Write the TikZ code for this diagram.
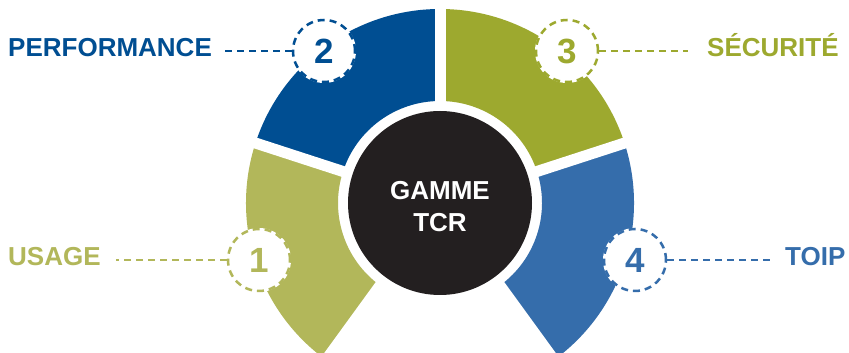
\documentclass[tikz,border=0pt]{standalone}
\usepackage{fontspec}
\setmainfont{Liberation Sans}
\usetikzlibrary{calc}
\definecolor{cone}{HTML}{B2B75A}
\definecolor{ctwo}{HTML}{004E92}
\definecolor{cthree}{HTML}{9DA92F}
\definecolor{cfour}{HTML}{356DAB}
\definecolor{ccore}{HTML}{231F20}
\begin{document}
\begin{tikzpicture}[x=1pt,y=1pt,
  numc/.style={circle, fill=white, minimum size=64pt, inner sep=0pt, text=#1,
    font=\fontsize{35}{40}\selectfont\bfseries},
  ring/.style={draw=#1, line width=2.5pt, dash pattern=on 7pt off 5pt},
  lbl/.style={inner sep=0pt, anchor=base west, text=#1,
    font=\fontsize{26}{30}\selectfont\bfseries},
  lnk/.style={draw=#1, line width=2.5pt, dash pattern=on 7pt off 5pt},
  gap/.style={draw=white, line width=11pt}]
\useasboundingbox (0,0) rectangle (849,353);
\clip (0,0) rectangle (849,353);
\fill[white] (0,0) rectangle (849,353);
% segments
\begin{scope}[shift={(440,150)}]
  \fill[cone]   (162:194pt) arc[start angle=162, end angle=234, radius=194pt] -- (234:102pt) arc[start angle=234, end angle=162, radius=102pt] -- cycle;
  \fill[ctwo]   (90:194pt) arc[start angle=90, end angle=162, radius=194pt] -- (162:102pt) arc[start angle=162, end angle=90, radius=102pt] -- cycle;
  \fill[cthree] (18:194pt) arc[start angle=18, end angle=90, radius=194pt] -- (90:102pt) arc[start angle=90, end angle=18, radius=102pt] -- cycle;
  \fill[cfour]  (-54:194pt) arc[start angle=-54, end angle=18, radius=194pt] -- (18:102pt) arc[start angle=18, end angle=-54, radius=102pt] -- cycle;
  \foreach \a in {18,90,162,234,306} \draw[gap] (0,0) -- (\a:210pt);
\end{scope}
% core
\node[circle, fill=ccore, minimum size=184pt, inner sep=0pt] (core) at (440,150) {};
\node[text=white, align=center, inner sep=0pt, font=\fontsize{26}{32}\selectfont\bfseries] (coretxt) at (440,146) {GAMME\\TCR};
% number circles
\node[numc=cone]   (n1) at (259,93)  {1};
\node[numc=ctwo]   (n2) at (324,302) {2};
\node[numc=cthree] (n3) at (567,302) {3};
\node[numc=cfour]  (n4) at (635,93)  {4};
\draw[ring=cone]   (n1.center) circle[radius=31pt];
\draw[ring=ctwo]   (n2.center) circle[radius=31pt];
\draw[ring=cthree] (n3.center) circle[radius=31pt];
\draw[ring=cfour]  (n4.center) circle[radius=31pt];
% labels
\node[lbl=ctwo]   (l2) at (8,296)   {PERFORMANCE};
\node[lbl=cthree] (l3) at (707,296) {SÉCURITÉ};
\node[lbl=cone]   (l1) at (8,87)    {USAGE};
\node[lbl=cfour]  (l4) at (785,87)  {TOIP};
% connectors
\draw[lnk=ctwo]   (n2.west) -- ([xshift=12pt]l2.east |- n2.west);
\draw[lnk=cthree] (n3.east) -- ([xshift=-19pt]l3.west |- n3.east);
\draw[lnk=cone]   (n1.west) -- ([xshift=15pt]l1.east |- n1.west);
\draw[lnk=cfour]  (n4.east) -- ([xshift=-13pt]l4.west |- n4.east);
\end{tikzpicture}
\end{document}
